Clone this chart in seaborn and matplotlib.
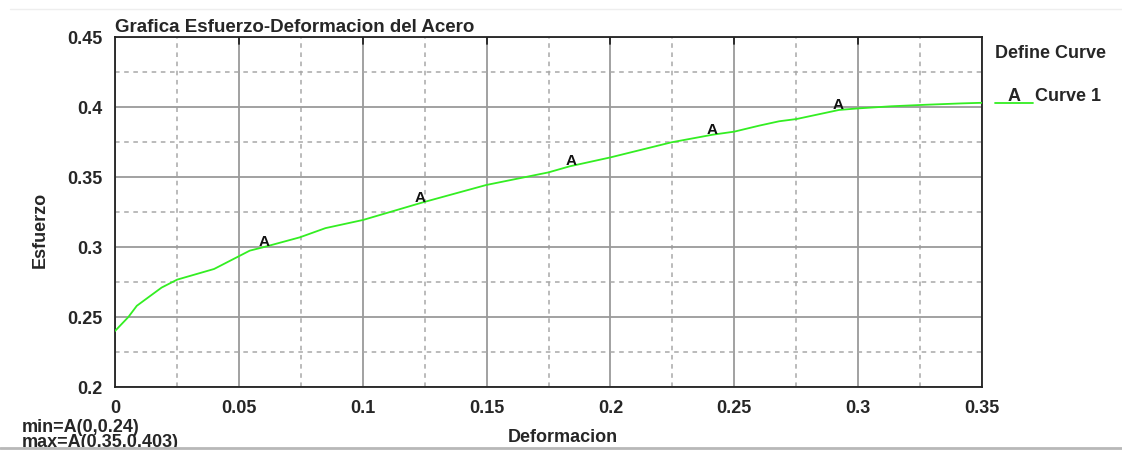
import numpy as np
import pandas as pd
import matplotlib
matplotlib.use("Agg")
import matplotlib.pyplot as plt
from matplotlib.ticker import MultipleLocator, FuncFormatter
from matplotlib.lines import Line2D
from matplotlib.patches import Rectangle
import seaborn as sns

# Steel stress-strain curve
deformacion = [0.0, 0.0054, 0.0088, 0.0188, 0.0251, 0.0400, 0.0544, 0.0598,
               0.0746, 0.0850, 0.1001, 0.1243, 0.1499, 0.1750, 0.1835, 0.2000,
               0.2247, 0.2412, 0.2500, 0.2601, 0.2681, 0.2751, 0.2923, 0.3000,
               0.3132, 0.3273, 0.3420, 0.3500]
esfuerzo = [0.240, 0.250, 0.258, 0.271, 0.2767, 0.2843, 0.2974, 0.2998,
            0.3069, 0.3135, 0.3193, 0.3319, 0.3443, 0.3533, 0.3576, 0.3640,
            0.3748, 0.3802, 0.3824, 0.3867, 0.3898, 0.3914, 0.3979, 0.3990,
            0.4005, 0.4016, 0.4026, 0.4030]

# Positions of the curve's "A" symbols along the strain axis
simbolo_x = [0.060, 0.123, 0.184, 0.241, 0.292]

titulo = "Grafica Esfuerzo-Deformacion del Acero"
etiqueta_x = "Deformacion"
etiqueta_y = "Esfuerzo"
nombre_curva = "Curve 1"

sns.set_style("white")
plt.rcParams["font.family"] = ["Liberation Sans", "DejaVu Sans"]
plt.rcParams["font.weight"] = "bold"

verde = "#33ee22"
gris_major = "#9a9a9a"
gris_minor = "#a8a8a8"
negro = "#222222"

df = pd.DataFrame({"Deformacion": deformacion, "Esfuerzo": esfuerzo})

fig = plt.figure(figsize=(11.22, 4.52), dpi=100)
ax = fig.add_axes([115 / 1122, 1 - 388 / 452, (982 - 115) / 1122, (388 - 38) / 452])

sns.lineplot(data=df, x="Deformacion", y="Esfuerzo", ax=ax, color=verde,
             linewidth=1.3, zorder=3)

# "A" symbols sitting on the curve
for sx in simbolo_x:
    sy = np.interp(sx, deformacion, esfuerzo)
    ax.text(sx, sy - 0.0005, "A", ha="center", va="bottom", fontsize=11,
            fontweight="bold", color="#111111", zorder=4)

ax.set_xlim(0, 0.35)
ax.set_ylim(0.2, 0.45)
ax.xaxis.set_major_locator(MultipleLocator(0.05))
ax.xaxis.set_minor_locator(MultipleLocator(0.025))
ax.yaxis.set_major_locator(MultipleLocator(0.05))
ax.yaxis.set_minor_locator(MultipleLocator(0.025))
fmt = FuncFormatter(lambda v, p: f"{v:.2f}".rstrip("0").rstrip(".") if v != 0 else "0")
ax.xaxis.set_major_formatter(fmt)
ax.yaxis.set_major_formatter(fmt)

ax.grid(which="major", color=gris_major, linestyle="-", linewidth=1.3, zorder=0)
ax.grid(which="minor", color=gris_minor, linestyle=(0, (3, 3)), linewidth=1.1, zorder=0)
ax.set_axisbelow(True)

ax.tick_params(which="major", direction="inout", length=16, width=1.3,
               color=negro, labelsize=13, pad=1)
ax.tick_params(which="minor", direction="in", length=7, width=1.0, color="#444444")
ax.tick_params(axis="both", which="both", top=False, right=False)
for lbl in ax.get_xticklabels() + ax.get_yticklabels():
    lbl.set_fontweight("bold")

# short inward marks along the top edge at the major strain ticks
for xt in ax.get_xticks():
    if 0 < xt < 0.35:
        ax.axvline(xt, ymin=1 - 7 / 350, ymax=1, color=negro, linewidth=1.3,
                   zorder=5)

for s in ax.spines.values():
    s.set_color(negro)
    s.set_linewidth(1.3)

ax.set_xlabel("")
ax.set_ylabel("")

fig.text(115 / 1122, 1 - 28 / 452, titulo, ha="left", va="center",
         fontsize=13.5, fontweight="bold")
fig.text(40 / 1122, 1 - 230 / 452, etiqueta_y, ha="center", va="center",
         rotation=90, fontsize=13, fontweight="bold")
fig.text(563 / 1122, 1 - 442 / 452, etiqueta_x, ha="center", va="baseline",
         fontsize=13, fontweight="bold")

i_min = int(np.argmin(esfuerzo))
i_max = int(np.argmax(esfuerzo))
fig.text(22 / 1122, 1 - 432 / 452,
         f"min=A({deformacion[i_min]:g},{esfuerzo[i_min]:g})",
         ha="left", va="baseline", fontsize=13, fontweight="bold")
fig.text(22 / 1122, 1 - 447 / 452,
         f"max=A({deformacion[i_max]:g},{esfuerzo[i_max]:g})",
         ha="left", va="baseline", fontsize=13, fontweight="bold")

# Curve key on the right
fig.text(995 / 1122, 1 - 53 / 452, "Define Curve", ha="left", va="center",
         fontsize=13, fontweight="bold")
fig.add_artist(Line2D([995 / 1122, 1033 / 1122], [1 - 104 / 452, 1 - 104 / 452],
                      color=verde, linewidth=1.3, transform=fig.transFigure))
fig.text(1014 / 1122, 1 - 97 / 452, "A", ha="center", va="center",
         fontsize=13, fontweight="bold")
fig.text(1035 / 1122, 1 - 97 / 452, nombre_curva, ha="left", va="center",
         fontsize=13, fontweight="bold")

# Window frame edges
fig.add_artist(Line2D([10 / 1122, 1], [1 - 10 / 452, 1 - 10 / 452],
                      color="#eeeeee", linewidth=1.0, transform=fig.transFigure))
fig.add_artist(Rectangle((0, 0), 1, 4.5 / 452, transform=fig.transFigure,
                         facecolor="white", edgecolor="none", zorder=10))
fig.add_artist(Line2D([0, 1], [3.5 / 452, 3.5 / 452], color="#b8b8b8",
                      linewidth=2.0, transform=fig.transFigure, zorder=11))

fig.savefig("out.png", dpi=100, facecolor="white")
